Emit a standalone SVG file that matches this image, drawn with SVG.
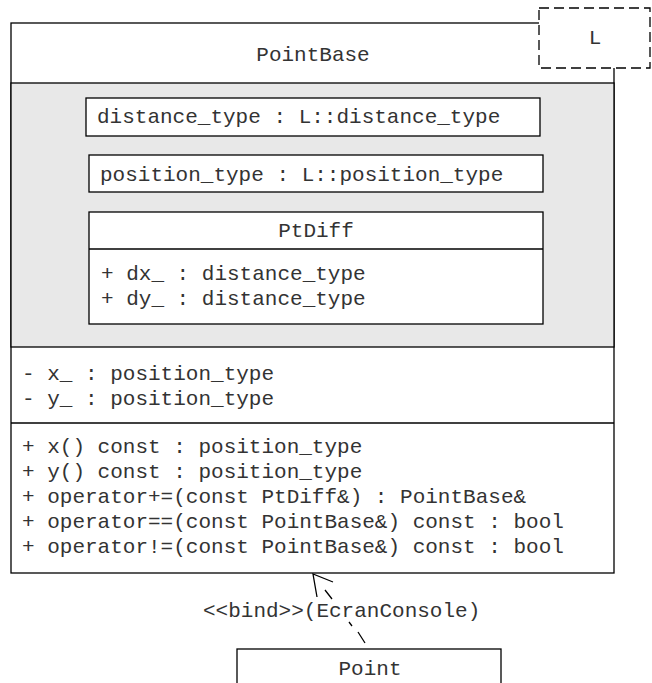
<svg xmlns="http://www.w3.org/2000/svg" width="652" height="683" viewBox="0 0 652 683">
  <style>
    .box { fill: #ffffff; stroke: #000000; stroke-width: 1.3; }
    .grey { fill: #e8e8e8; stroke: #000000; stroke-width: 1.3; }
    .sep { stroke: #000000; stroke-width: 1.3; fill: none; }
    .tpl { fill: #ffffff; stroke: #000000; stroke-width: 1.3; stroke-dasharray: 10 5; }
    .t { font-family: "Liberation Mono", "Courier New", monospace; font-size: 21px; fill: #333333; }
    .c { text-anchor: middle; }
    .dep { stroke: #000000; stroke-width: 1.3; fill: none; }
    .head { stroke: #000000; stroke-width: 1.3; fill: none; }
  </style>

  <!-- class PointBase -->
  <g id="PointBase">
    <rect class="box" x="11" y="23" width="603" height="550"/>
    <rect class="grey" x="11" y="83" width="603" height="264"/>
    <line class="sep" x1="11" y1="423" x2="614" y2="423"/>
    <text class="t c" x="313" y="61">PointBase</text>
    <text class="t" x="22" y="380">- x_ : position_type</text>
    <text class="t" x="22" y="405">- y_ : position_type</text>
    <text class="t" x="22" y="453">+ x() const : position_type</text>
    <text class="t" x="22" y="478">+ y() const : position_type</text>
    <text class="t" x="22" y="503">+ operator+=(const PtDiff&amp;) : PointBase&amp;</text>
    <text class="t" x="22" y="528">+ operator==(const PointBase&amp;) const : bool</text>
    <text class="t" x="22" y="553">+ operator!=(const PointBase&amp;) const : bool</text>
  </g>

  <!-- template parameter -->
  <g id="template-L">
    <rect class="tpl" x="539" y="8" width="111" height="60"/>
    <text class="t c" x="595" y="44">L</text>
  </g>

  <!-- nested typedefs -->
  <g id="distance_type">
    <rect class="box" x="86" y="98" width="454" height="38"/>
    <text class="t" x="97" y="123">distance_type : L::distance_type</text>
  </g>
  <g id="position_type">
    <rect class="box" x="89" y="155" width="454" height="37"/>
    <text class="t" x="100" y="181">position_type : L::position_type</text>
  </g>

  <!-- nested class PtDiff -->
  <g id="PtDiff">
    <rect class="box" x="89" y="212" width="454" height="112"/>
    <line class="sep" x1="89" y1="249" x2="543" y2="249"/>
    <text class="t c" x="316" y="237">PtDiff</text>
    <text class="t" x="101" y="280">+ dx_ : distance_type</text>
    <text class="t" x="101" y="305">+ dy_ : distance_type</text>
  </g>

  <!-- class Point -->
  <g id="Point">
    <rect class="box" x="237" y="649" width="264" height="50"/>
    <text class="t c" x="370" y="675">Point</text>
  </g>

  <!-- bind dependency: dashed shaft broken by the label, open arrowhead -->
  <g id="connectors">
    <path class="dep" d="M325,590 L332,599 M349,622 L352,626 M358,632 L365,643"/>
    <polyline class="head" points="317,597 313,574 333,582"/>
    <text class="t" x="203" y="617">&lt;&lt;bind&gt;&gt;(EcranConsole)</text>
  </g>
</svg>
